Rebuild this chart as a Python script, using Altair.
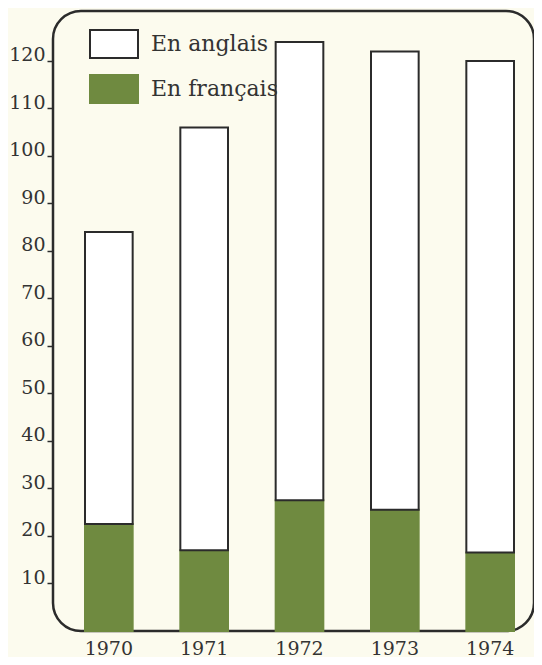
import altair as alt
import pandas as pd

annees = ["1970", "1971", "1972", "1973", "1974"]
en_francais = [22.5, 17, 27.5, 25.5, 16.5]
en_anglais = [61.5, 89, 96.5, 96.5, 103.5]
series = ["En anglais", "En français"]
y_ticks = [10, 20, 30, 40, 50, 60, 70, 80, 90, 100, 110, 120]

GREEN = "#6f8a40"
INK = "#2b2b2b"
BG = "#fcfbee"
FONT = "DejaVu Serif"

rows = []
for a, v in zip(annees, en_francais):
    rows.append({"annee": a, "serie": "En français", "valeur": v, "rang": 0})
for a, v in zip(annees, en_anglais):
    rows.append({"annee": a, "serie": "En anglais", "valeur": v, "rang": 1})
df = pd.DataFrame(rows)

legend_opts = dict(
    title=None, orient="none", legendX=40, legendY=12,
    symbolType="M-1.2,-0.7H1.2V0.7H-1.2Z", symbolSize=1600,
    symbolStrokeWidth=2, rowPadding=6, padding=0, labelOffset=16,
    labelFont=FONT, labelFontSize=22, labelColor="#333333",
)

chart = alt.Chart(df).mark_bar(strokeWidth=2).encode(
    x=alt.X(
        "annee:N",
        sort=annees,
        title=None,
        scale=alt.Scale(range=[3.4, 489.6], paddingInner=0.5, paddingOuter=0.3),
        axis=alt.Axis(
            labelAngle=0, domain=False, ticks=False, labelPadding=8,
            labelFont=FONT, labelFontSize=19, labelColor="#333333",
        ),
    ),
    y=alt.Y(
        "valeur:Q",
        stack="zero",
        title=None,
        scale=alt.Scale(domain=[0, 130.5], nice=False, zero=True),
        axis=alt.Axis(
            values=y_ticks, domain=False, grid=False, tickSize=6, tickWidth=1.5,
            tickColor=INK, labelBaseline="alphabetic", labelPadding=2,
            labelFont=FONT, labelFontSize=19, labelColor="#333333",
        ),
    ),
    fill=alt.Fill(
        "serie:N",
        scale=alt.Scale(domain=series, range=["#ffffff", GREEN]),
        legend=alt.Legend(**legend_opts),
    ),
    stroke=alt.Stroke(
        "serie:N",
        scale=alt.Scale(domain=series, range=[INK, GREEN]),
        legend=alt.Legend(**legend_opts),
    ),
    order=alt.Order("rang:Q"),
).properties(
    width=481,
    height=620,
    autosize=alt.AutoSizeParams(type="none"),
    padding={"left": 45, "top": 3, "right": 0, "bottom": 26},
    background=BG,
).configure_view(
    stroke=INK, strokeWidth=2.5, cornerRadius=28, fill=None,
)

chart.save("out.html", embed_options={"renderer": "svg", "actions": False})
